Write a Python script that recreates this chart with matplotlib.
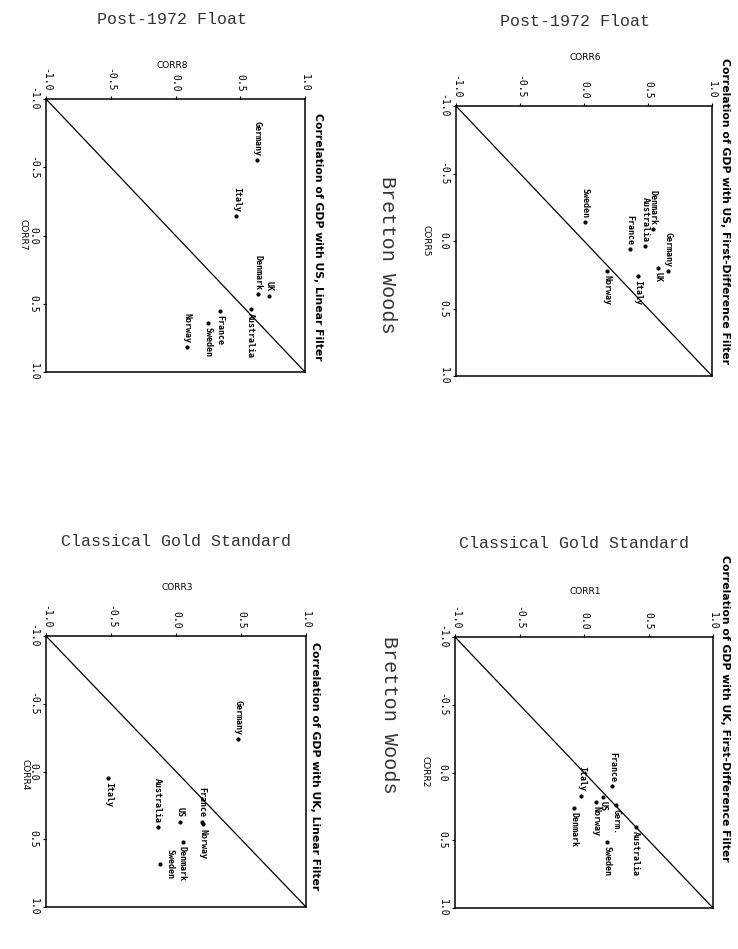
import matplotlib
matplotlib.use("Agg")
import matplotlib.pyplot as plt

W, H = 738, 949

# ---------------- data ----------------
# Panel A: US, first-difference filter, Post-1972 float (CORR5 vs CORR6)
a_countries = ["Germany", "UK", "Denmark", "Australia", "France", "Sweden", "Italy", "Norway"]
a_corr5 = [0.22, 0.20, -0.09, 0.04, 0.06, -0.14, 0.26, 0.22]
a_corr6 = [0.66, 0.58, 0.54, 0.48, 0.36, 0.01, 0.42, 0.18]

# Panel B: UK, first-difference filter, Classical gold standard (CORR2 vs CORR1)
b_countries = ["France", "Italy", "US", "Norway", "Germ.", "Denmark", "Australia", "Sweden"]
b_corr2 = [0.10, 0.17, 0.18, 0.22, 0.24, 0.26, 0.40, 0.51]
b_corr1 = [0.22, -0.02, 0.15, 0.09, 0.25, -0.08, 0.40, 0.18]

# Panel C: US, linear filter, Post-1972 float (CORR7 vs CORR8)
c_countries = ["Germany", "Italy", "UK", "Denmark", "Australia", "France", "Sweden", "Norway"]
c_corr7 = [-0.55, -0.14, 0.44, 0.43, 0.54, 0.55, 0.64, 0.82]
c_corr8 = [0.63, 0.47, 0.72, 0.64, 0.58, 0.34, 0.25, 0.09]

# Panel D: UK, linear filter, Classical gold standard (CORR4 vs CORR3)
d_countries = ["Germany", "Italy", "Australia", "France", "Norway", "US", "Denmark", "Sweden"]
d_corr4 = [-0.24, 0.05, 0.41, 0.37, 0.39, 0.37, 0.52, 0.68]
d_corr3 = [0.48, -0.52, -0.14, 0.20, 0.21, 0.03, 0.05, -0.12]

tick_values = [-1.0, -0.5, 0.0, 0.5, 1.0]
tick_labels = ["-1.0", "-0.5", "0.0", "0.5", "1.0"]

# label placement styles (before / after the point, along rotated text)
a_side = ["R", "L", "R", "R", "R", "R", "L", "L"]
b_side = ["R", "R", "L", "L", "L", "L", "L", "L"]
c_side = ["R", "R", "R", "R", "L", "L", "L", "R"]
d_side = ["R", "L", "R", "R", "L", "R", "L", "S"]

fig = plt.figure(figsize=(W / 100, H / 100), dpi=100)
fig.patch.set_facecolor("white")

LBL = dict(rotation=-90, rotation_mode="anchor", va="center", fontsize=6,
           family="DejaVu Sans Mono", fontweight="bold")


def T(x, y, s, **kw):
    fig.text(x / W, 1 - y / H, s, **kw)


def make_panel(box, hvals, vvals, names, sides, hlabel, vlabel,
               hlab_pos, vlab_pos, title, title_pos):
    x0, y0, x1, y1 = box
    ax = fig.add_axes([x0 / W, 1 - y1 / H, (x1 - x0) / W, (y1 - y0) / H])
    ax.set_xlim(-1, 1)
    ax.set_ylim(1, -1)
    ax.plot([-1, 1], [-1, 1], color="black", lw=0.9)
    ax.plot(hvals, vvals, "o", color="black", ms=2.0, mec="black")
    for h, v, n, s in zip(hvals, vvals, names, sides):
        if s == "R":
            ax.annotate(n, (h, v), xytext=(0, 3), textcoords="offset points",
                        ha="right", **LBL)
        elif s == "L":
            ax.annotate(n, (h, v), xytext=(0, -3), textcoords="offset points",
                        ha="left", **LBL)
        else:
            ax.annotate(n, (h, v), xytext=(7, 0), textcoords="offset points",
                        ha="center", **LBL)
    ax.set_xticks(tick_values)
    ax.set_xticklabels(tick_labels)
    ax.set_yticks(tick_values)
    ax.set_yticklabels(tick_labels)
    ax.xaxis.tick_top()
    ax.tick_params(axis="x", top=True, bottom=False, labeltop=True,
                   labelbottom=False, labelrotation=-90, length=2.5,
                   width=0.8, pad=3, labelsize=7)
    ax.tick_params(axis="y", left=True, right=False, labelrotation=-90,
                   length=2.5, width=0.8, pad=3, labelsize=7)
    for lab in ax.get_xticklabels() + ax.get_yticklabels():
        lab.set_family("DejaVu Sans Mono")
    for lab in ax.get_yticklabels():
        lab.set_va("center")
    for sp in ax.spines.values():
        sp.set_linewidth(1.1)
    T(hlab_pos[0], hlab_pos[1], hlabel, ha="center", va="center",
      fontsize=6.5, family="DejaVu Sans")
    T(vlab_pos[0], vlab_pos[1], vlabel, ha="center", va="center",
      fontsize=6.5, family="DejaVu Sans", rotation=-90)
    T(title_pos[0], title_pos[1], title, ha="center", va="center",
      fontsize=7.8, family="DejaVu Sans", fontweight="bold", rotation=-90)
    return ax


make_panel((456, 106, 712, 376), a_corr6, a_corr5, a_countries, a_side,
           "CORR6", "CORR5", (585, 58), (426, 241),
           "Correlation of GDP with US, First-Difference Filter", (725, 211))
make_panel((455, 637, 713, 908), b_corr1, b_corr2, b_countries, b_side,
           "CORR1", "CORR2", (585, 592), (425, 772),
           "Correlation of GDP with UK, First-Difference Filter", (725, 708))
make_panel((46, 99, 305, 372), c_corr8, c_corr7, c_countries, c_side,
           "CORR8", "CORR7", (172, 65), (23, 235),
           "Correlation of GDP with US, Linear Filter", (318, 237))
make_panel((46, 636, 306, 907), d_corr3, d_corr4, d_countries, d_side,
           "CORR3", "CORR4", (177, 588), (25, 775),
           "Correlation of GDP with UK, Linear Filter", (315, 766))

# panel headings
T(575, 22, "Post-1972 Float", ha="center", va="center", fontsize=12,
  family="Liberation Mono", color="#333333")
T(172, 20, "Post-1972 Float", ha="center", va="center", fontsize=12,
  family="Liberation Mono", color="#333333")
T(574, 543, "Classical Gold Standard", ha="center", va="center", fontsize=12,
  family="Liberation Mono", color="#333333")
T(176, 541, "Classical Gold Standard", ha="center", va="center", fontsize=12,
  family="Liberation Mono", color="#333333")
T(388, 255, "Bretton Woods", ha="center", va="center", fontsize=14.5,
  family="Liberation Mono", color="#333333", rotation=-90)
T(390, 715, "Bretton Woods", ha="center", va="center", fontsize=14.5,
  family="Liberation Mono", color="#333333", rotation=-90)

fig.savefig("out.png", dpi=100, facecolor="white")
